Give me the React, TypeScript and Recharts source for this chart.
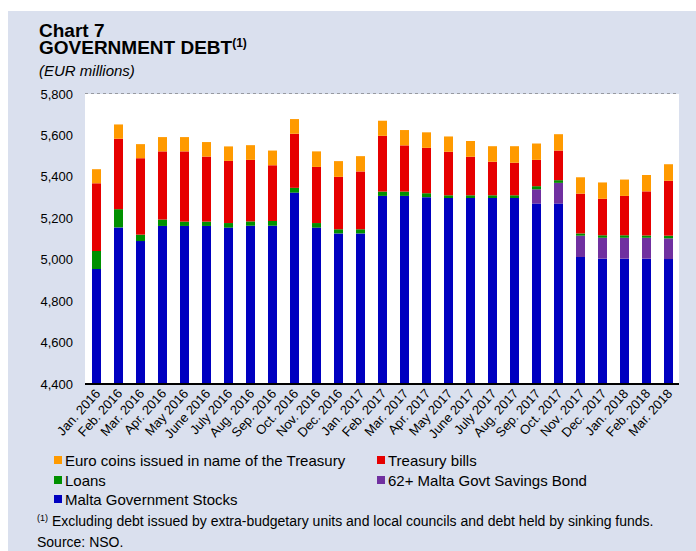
import { BarChart, Bar, XAxis, YAxis, CartesianGrid } from "recharts"

// months shown on the x axis
const months = [
  "Jan. 2016", "Feb. 2016", "Mar. 2016", "Apr. 2016", "May 2016", "June 2016", "July 2016",
  "Aug. 2016", "Sep. 2016", "Oct. 2016", "Nov. 2016", "Dec. 2016", "Jan. 2017", "Feb. 2017",
  "Mar. 2017", "Apr. 2017", "May 2017", "June 2017", "July 2017", "Aug. 2017", "Sep. 2017",
  "Oct. 2017", "Nov. 2017", "Dec. 2017", "Jan. 2018", "Feb. 2018", "Mar. 2018",
]

// EUR millions
const stocks = [4955, 5156, 5090, 5163, 5163, 5163, 5155, 5164, 5164, 5324, 5155, 5127, 5127, 5308, 5308, 5302, 5298, 5298, 5298, 5298, 5271, 5271, 5013, 5005, 5005, 5005, 5003]
const savingsBond = [0, 0, 0, 0, 0, 0, 0, 0, 0, 0, 0, 0, 0, 0, 0, 0, 0, 0, 0, 0, 69, 100, 103, 101, 101, 101, 100]
const loans = [87, 88, 31, 31, 21, 21, 22, 21, 23, 23, 22, 20, 20, 21, 21, 19, 13, 13, 13, 13, 15, 13, 11, 12, 12, 11, 13]
const treasuryBills = [327, 340, 369, 329, 339, 314, 300, 297, 269, 261, 271, 253, 279, 269, 223, 219, 210, 186, 162, 157, 127, 143, 192, 176, 190, 213, 265]
const euroCoins = [68, 69, 68, 69, 69, 70, 70, 71, 71, 71, 75, 76, 74, 73, 74, 75, 74, 76, 75, 80, 79, 79, 79, 79, 79, 79, 80]

const yTicks = [4400, 4600, 4800, 5000, 5200, 5400, 5600, 5800]

const COLORS = {
  stocks: "#0000c0",
  bond: "#7030a0",
  loans: "#009000",
  bills: "#e60000",
  coins: "#ff9a00",
}

const FONT = '"Liberation Sans", Arial, sans-serif'

const data = months.map((month, i) => ({
  month,
  stocks: stocks[i],
  bond: savingsBond[i],
  loans: loans[i],
  bills: treasuryBills[i],
  coins: euroCoins[i],
}))

const XTick = ({ x, y, payload }: any) => (
  <g transform={`translate(${x + 5},${y + 2})`}>
    <text transform="rotate(-48)" textAnchor="end" fontSize={13} fill="#000" fontFamily={FONT}>
      {payload.value}
    </text>
  </g>
)

const legendItems = [
  { label: "Euro coins issued in name of the Treasury", color: COLORS.coins, left: 46, top: 449 },
  { label: "Treasury bills", color: COLORS.bills, left: 369, top: 449 },
  { label: "Loans", color: COLORS.loans, left: 46, top: 469 },
  { label: "62+ Malta Govt Savings Bond", color: COLORS.bond, left: 369, top: 469 },
  { label: "Malta Government Stocks", color: COLORS.stocks, left: 46, top: 488 },
]

export default function App() {
  return (
    <div
      style={{
        position: "absolute",
        left: 8,
        top: 11,
        width: 688,
        height: 540,
        background: "#dae0ee",
        fontFamily: FONT,
        color: "#000",
      }}
    >
      <div style={{ position: "absolute", left: 31, top: 11, fontSize: 19, fontWeight: "bold", lineHeight: "17px", whiteSpace: "nowrap" }}>
        Chart 7
        <br />
        GOVERNMENT DEBT<span style={{ fontSize: 12, position: "relative", top: -7 }}>(1)</span>
      </div>
      <div style={{ position: "absolute", left: 31, top: 51, fontSize: 15, fontStyle: "italic", lineHeight: "18px" }}>
        (EUR millions)
      </div>

      <div style={{ position: "absolute", left: 0, top: 0 }}>
        <BarChart width={688} height={453} data={data} margin={{ top: 83, right: 17, left: 7, bottom: 0 }} barSize={9}>
          <rect x={77} y={83} width={594} height={290} fill="#fff" />
          <CartesianGrid vertical={false} stroke="#555" strokeDasharray="3 3" />
          <XAxis
            dataKey="month"
            interval={0}
            height={80}
            tickLine={false}
            axisLine={{ stroke: "#000", strokeWidth: 2 }}
            tick={<XTick />}
          />
          <YAxis
            type="number"
            domain={[4400, 5800]}
            ticks={yTicks}
            allowDataOverflow
            width={70}
            axisLine={false}
            tickLine={false}
            tickMargin={6}
            tickFormatter={(v: number) => v.toLocaleString("en-US")}
            tick={{ fontSize: 13, fill: "#000", fontFamily: FONT }}
          />
          <Bar dataKey="stocks" stackId="a" fill={COLORS.stocks} isAnimationActive={false} />
          <Bar dataKey="bond" stackId="a" fill={COLORS.bond} isAnimationActive={false} />
          <Bar dataKey="loans" stackId="a" fill={COLORS.loans} isAnimationActive={false} />
          <Bar dataKey="bills" stackId="a" fill={COLORS.bills} isAnimationActive={false} />
          <Bar dataKey="coins" stackId="a" fill={COLORS.coins} isAnimationActive={false} />
        </BarChart>
      </div>

      {legendItems.map((item) => (
        <div
          key={item.label}
          style={{ position: "absolute", left: item.left, top: item.top - 9, height: 18, display: "flex", alignItems: "center", fontSize: 15 }}
        >
          <span style={{ width: 8, height: 8, background: item.color, marginRight: 3, display: "inline-block" }} />
          {item.label}
        </div>
      ))}

      <div style={{ position: "absolute", left: 29, top: 501, fontSize: 14, lineHeight: "18px" }}>
        <span style={{ fontSize: 9, position: "relative", top: -5 }}>(1)</span> Excluding debt issued by extra-budgetary units and local councils and debt held by sinking funds.
      </div>
      <div style={{ position: "absolute", left: 29, top: 522, fontSize: 14, lineHeight: "18px" }}>Source: NSO.</div>
    </div>
  )
}
